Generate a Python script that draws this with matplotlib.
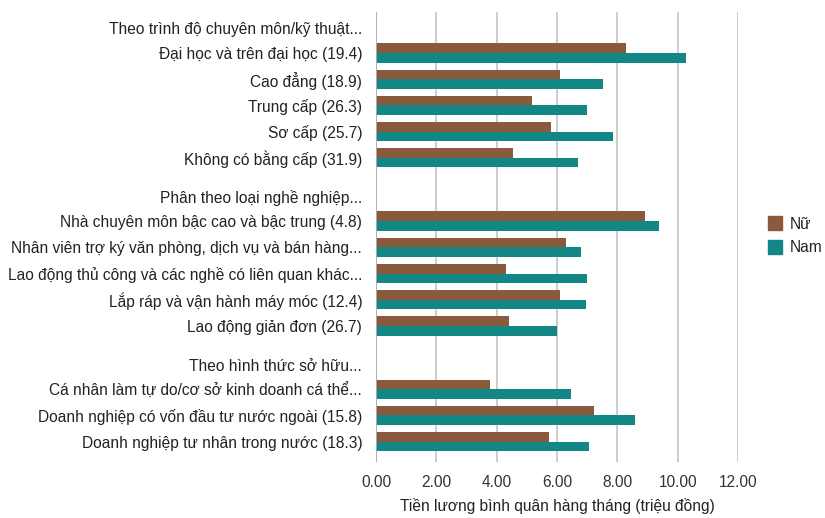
import matplotlib
matplotlib.use("Agg")
import matplotlib.pyplot as plt
from matplotlib.lines import Line2D

plt.rcParams['font.family'] = ['Liberation Sans', 'DejaVu Sans']

# Data: (header, [labels], [nu], [nam])
headers = ["Theo trình độ chuyên môn/kỹ thuật...",
           "Phân theo loại nghề nghiệp...",
           "Theo hình thức sở hữu..."]

labels_trinhdo = ["Đại học và trên đại học (19.4)", "Cao đẳng (18.9)",
                  "Trung cấp (26.3)", "Sơ cấp (25.7)", "Không có bằng cấp (31.9)"]
nu_trinhdo = [8.29, 6.10, 5.17, 5.80, 4.54]
nam_trinhdo = [10.28, 7.52, 6.99, 7.86, 6.70]

labels_nghe = ["Nhà chuyên môn bậc cao và bậc trung (4.8)",
               "Nhân viên trợ ký văn phòng, dịch vụ và bán hàng...",
               "Lao động thủ công và các nghề có liên quan khác...",
               "Lắp ráp và vận hành máy móc (12.4)",
               "Lao động giản đơn (26.7)"]
nu_nghe = [8.92, 6.30, 4.31, 6.10, 4.41]
nam_nghe = [9.38, 6.80, 6.99, 6.96, 6.00]

labels_sohuu = ["Cá nhân làm tự do/cơ sở kinh doanh cá thể...",
                "Doanh nghiệp có vốn đầu tư nước ngoài (15.8)",
                "Doanh nghiệp tư nhân trong nước (18.3)"]
nu_sohuu = [3.78, 7.23, 5.73]
nam_sohuu = [6.46, 8.58, 7.06]

xticks = [0, 2, 4, 6, 8, 10, 12]

groups = [(headers[0], labels_trinhdo, nu_trinhdo, nam_trinhdo),
          (headers[1], labels_nghe, nu_nghe, nam_nghe),
          (headers[2], labels_sohuu, nu_sohuu, nam_sohuu)]

c_nu = "#8a5a3c"
c_nam = "#138686"
txt = "#222222"

fig = plt.figure(figsize=(8.25, 5.18), dpi=100)
ax = fig.add_axes([0.4558, 0.108, 0.4388, 0.869])

bar_h = 0.37
pos = 0.0
tick_pos, tick_lab = [], []
for g, (head, labs, nu, nam) in enumerate(groups):
    if g > 0:
        pos += 1.42
    tick_pos.append(pos - 0.94)
    tick_lab.append(head)
    for i in range(len(labs)):
        y = pos + i
        ax.barh(y - bar_h / 2, nu[i], height=bar_h, color=c_nu, zorder=3)
        ax.barh(y + bar_h / 2, nam[i], height=bar_h, color=c_nam, zorder=3)
        tick_pos.append(y)
        tick_lab.append(labs[i])
    pos += len(labs)

ax.set_ylim(15.62, -1.57)
ax.set_xlim(0, 12)
ax.set_yticks(tick_pos)
ax.set_yticklabels(tick_lab, fontsize=11.2, color=txt)
ax.set_xticks(xticks)
ax.set_xticklabels([f"{v:.2f}" for v in xticks], fontsize=11.2, color="#333333")
ax.tick_params(axis='both', length=0)
ax.tick_params(axis='y', pad=10)
ax.tick_params(axis='x', pad=9)
ax.grid(axis='x', color="#c4c4c4", linewidth=1.2, zorder=0)
ax.axvline(0, color="#b0b0b0", linewidth=1.3, zorder=4)
for s in ax.spines.values():
    s.set_visible(False)
ax.set_xlabel("Tiền lương bình quân hàng tháng (triệu đồng)", fontsize=11.2,
              color=txt, labelpad=6)

handles = [Line2D([], [], marker='s', linestyle='', markersize=9.5, color=c_nu),
           Line2D([], [], marker='s', linestyle='', markersize=9.5, color=c_nam)]
leg = fig.legend(handles, ["Nữ", "Nam"], loc='upper left',
                 bbox_to_anchor=(0.913, 0.609), frameon=False, fontsize=11.2,
                 handletextpad=0.45, labelspacing=0.55, handlelength=1.0)
for t in leg.get_texts():
    t.set_color(txt)

fig.savefig("out.png", dpi=100)
